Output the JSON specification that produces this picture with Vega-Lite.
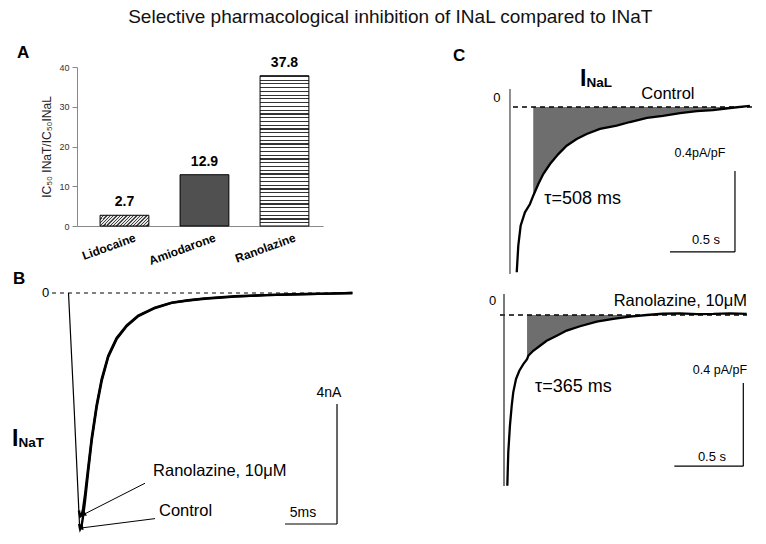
{
  "$schema": "https://vega.github.io/schema/vega-lite/v6.json",
  "background": "white",
  "padding": {"left": 12, "top": 7, "right": 0, "bottom": 0},
  "autosize": {"type": "pad"},
  "title": {"text": "Selective pharmacological inhibition of INaL compared to INaT", "fontSize": 19, "fontWeight": "normal", "font": "Liberation Sans", "color": "#111", "anchor": "middle", "frame": "bounds", "dx": 7, "offset": 17},
  "config": {"font": "Liberation Sans", "view": {"stroke": null}},
  "columns": 2,
  "bounds": "flush",
  "spacing": {"row": 5, "column": 149},
  "datasets": {
    "one": [{}],
    "ratios": [
      {"drug": "Lidocaine", "ratio": 2.7},
      {"drug": "Amiodarone", "ratio": 12.9},
      {"drug": "Ranolazine", "ratio": 37.8}
    ],
    "nat": [
      {"s": "onset", "t": 0, "v": 0},
      {"s": "onset", "t": 0.55, "v": -3.9},
      {"s": "onset", "t": 1.06, "v": -7.75},
      {"s": "onset", "t": 1.12, "v": -7.87},
      {"s": "Control", "t": 1.02, "v": -7.7},
      {"s": "Control", "t": 1.12, "v": -7.87},
      {"s": "Control", "t": 1.25, "v": -7.78},
      {"s": "Control", "t": 1.39, "v": -7.47},
      {"s": "Control", "t": 1.59, "v": -6.93},
      {"s": "Control", "t": 1.9, "v": -5.93},
      {"s": "Control", "t": 2.23, "v": -4.93},
      {"s": "Control", "t": 2.71, "v": -3.8},
      {"s": "Control", "t": 3.19, "v": -2.93},
      {"s": "Control", "t": 3.82, "v": -2.13},
      {"s": "Control", "t": 4.63, "v": -1.53},
      {"s": "Control", "t": 5.6, "v": -1.1},
      {"s": "Control", "t": 6.71, "v": -0.77},
      {"s": "Control", "t": 8.32, "v": -0.5},
      {"s": "Control", "t": 9.92, "v": -0.33},
      {"s": "Control", "t": 11.5, "v": -0.25},
      {"s": "Control", "t": 13.1, "v": -0.19},
      {"s": "Control", "t": 16, "v": -0.12},
      {"s": "Control", "t": 19, "v": -0.07},
      {"s": "Control", "t": 22, "v": -0.04},
      {"s": "Control", "t": 25, "v": -0.02},
      {"s": "Control", "t": 27.3, "v": 0},
      {"s": "Ranolazine", "t": 1.0, "v": -7.25},
      {"s": "Ranolazine", "t": 1.12, "v": -7.45},
      {"s": "Ranolazine", "t": 1.25, "v": -7.42},
      {"s": "Ranolazine", "t": 1.4, "v": -7.2},
      {"s": "Ranolazine", "t": 1.59, "v": -6.72},
      {"s": "Ranolazine", "t": 1.9, "v": -5.8},
      {"s": "Ranolazine", "t": 2.23, "v": -4.83},
      {"s": "Ranolazine", "t": 2.71, "v": -3.72},
      {"s": "Ranolazine", "t": 3.19, "v": -2.87},
      {"s": "Ranolazine", "t": 3.82, "v": -2.09},
      {"s": "Ranolazine", "t": 4.63, "v": -1.5},
      {"s": "Ranolazine", "t": 5.6, "v": -1.08},
      {"s": "Ranolazine", "t": 6.71, "v": -0.75},
      {"s": "Ranolazine", "t": 8.32, "v": -0.49},
      {"s": "Ranolazine", "t": 9.92, "v": -0.32},
      {"s": "Ranolazine", "t": 11.5, "v": -0.24},
      {"s": "Ranolazine", "t": 13.1, "v": -0.18},
      {"s": "Ranolazine", "t": 16, "v": -0.11},
      {"s": "Ranolazine", "t": 19, "v": -0.07},
      {"s": "Ranolazine", "t": 22, "v": -0.04},
      {"s": "Ranolazine", "t": 25, "v": -0.02},
      {"s": "Ranolazine", "t": 27.3, "v": 0}
    ],
    "nalControl": [
      {"t": 0.052, "v": -0.814}, {"t": 0.064, "v": -0.683}, {"t": 0.082, "v": -0.585}, {"t": 0.115, "v": -0.519},
      {"t": 0.154, "v": -0.478}, {"t": 0.179, "v": -0.437}, {"t": 0.218, "v": -0.379}, {"t": 0.256, "v": -0.33},
      {"t": 0.308, "v": -0.281}, {"t": 0.372, "v": -0.232}, {"t": 0.436, "v": -0.191}, {"t": 0.513, "v": -0.158},
      {"t": 0.59, "v": -0.133}, {"t": 0.692, "v": -0.108}, {"t": 0.821, "v": -0.092}, {"t": 0.923, "v": -0.074},
      {"t": 1.054, "v": -0.054}, {"t": 1.177, "v": -0.044}, {"t": 1.308, "v": -0.03}, {"t": 1.438, "v": -0.02},
      {"t": 1.562, "v": -0.015}, {"t": 1.692, "v": -0.005}, {"t": 1.846, "v": 0.005}
    ],
    "nalRanolazine": [
      {"t": 0.024, "v": -0.821}, {"t": 0.031, "v": -0.66}, {"t": 0.043, "v": -0.532}, {"t": 0.056, "v": -0.436},
      {"t": 0.067, "v": -0.372}, {"t": 0.087, "v": -0.308}, {"t": 0.111, "v": -0.268}, {"t": 0.14, "v": -0.236},
      {"t": 0.167, "v": -0.212}, {"t": 0.176, "v": -0.196}, {"t": 0.212, "v": -0.172}, {"t": 0.261, "v": -0.148},
      {"t": 0.309, "v": -0.124}, {"t": 0.382, "v": -0.1}, {"t": 0.454, "v": -0.075}, {"t": 0.551, "v": -0.054},
      {"t": 0.672, "v": -0.032}, {"t": 0.792, "v": -0.019}, {"t": 0.913, "v": -0.008}, {"t": 1.034, "v": 0.0},
      {"t": 1.15, "v": 0.006}, {"t": 1.275, "v": 0.008}, {"t": 1.4, "v": 0.004}, {"t": 1.517, "v": 0.005},
      {"t": 1.64, "v": 0.008}, {"t": 1.759, "v": 0.005}
    ]
  },
  "concat": [
    {
      "width": 246,
      "height": 159,
      "title": {"text": "A", "anchor": "start", "frame": "group", "dx": -60, "offset": -6, "fontSize": 17, "fontWeight": "bold", "color": "#000"},
      "data": {"name": "ratios"},
      "encoding": {
        "x": {"field": "drug", "type": "nominal", "sort": null,
          "scale": {"paddingInner": 0.39, "paddingOuter": 0.2325, "align": 0.62},
          "axis": {"title": null, "labelAngle": -20, "labelAlign": "right", "labelBaseline": "top", "labelFontWeight": "bold", "labelFontSize": 12, "labelColor": "#000", "ticks": false, "domainColor": "#888", "labelPadding": 6, "labelOffset": 9, "grid": false}},
        "y": {"field": "ratio", "type": "quantitative",
          "scale": {"domain": [0, 40], "nice": false},
          "axis": {"title": "IC₅₀ INaT/IC₅₀INaL", "titleFontSize": 12, "titleFontWeight": "normal", "titleColor": "#222", "titlePadding": 5, "values": [0, 10, 20, 30, 40], "labelFontSize": 9, "labelColor": "#333", "tickColor": "#888", "domainColor": "#888", "tickSize": 5, "labelPadding": 3, "grid": false}}
      },
      "layer": [
        {
          "transform": [{"filter": "datum.drug === 'Lidocaine'"}],
          "mark": {"type": "bar", "stroke": "#000", "strokeWidth": 1,
            "fill": {"gradient": "linear", "x1": 0, "y1": 0, "x2": 1.17, "y2": 0.256, "stops": [
              {"offset": 0, "color": "#444"}, {"offset": 0.022, "color": "#444"}, {"offset": 0.022, "color": "#e4e4e4"}, {"offset": 0.0556, "color": "#e4e4e4"},
              {"offset": 0.0556, "color": "#444"}, {"offset": 0.0778, "color": "#444"}, {"offset": 0.0778, "color": "#e4e4e4"}, {"offset": 0.1111, "color": "#e4e4e4"},
              {"offset": 0.1111, "color": "#444"}, {"offset": 0.1333, "color": "#444"}, {"offset": 0.1333, "color": "#e4e4e4"}, {"offset": 0.1667, "color": "#e4e4e4"},
              {"offset": 0.1667, "color": "#444"}, {"offset": 0.1889, "color": "#444"}, {"offset": 0.1889, "color": "#e4e4e4"}, {"offset": 0.2222, "color": "#e4e4e4"},
              {"offset": 0.2222, "color": "#444"}, {"offset": 0.2444, "color": "#444"}, {"offset": 0.2444, "color": "#e4e4e4"}, {"offset": 0.2778, "color": "#e4e4e4"},
              {"offset": 0.2778, "color": "#444"}, {"offset": 0.3, "color": "#444"}, {"offset": 0.3, "color": "#e4e4e4"}, {"offset": 0.3333, "color": "#e4e4e4"},
              {"offset": 0.3333, "color": "#444"}, {"offset": 0.3556, "color": "#444"}, {"offset": 0.3556, "color": "#e4e4e4"}, {"offset": 0.3889, "color": "#e4e4e4"},
              {"offset": 0.3889, "color": "#444"}, {"offset": 0.4111, "color": "#444"}, {"offset": 0.4111, "color": "#e4e4e4"}, {"offset": 0.4444, "color": "#e4e4e4"},
              {"offset": 0.4444, "color": "#444"}, {"offset": 0.4667, "color": "#444"}, {"offset": 0.4667, "color": "#e4e4e4"}, {"offset": 0.5, "color": "#e4e4e4"},
              {"offset": 0.5, "color": "#444"}, {"offset": 0.5222, "color": "#444"}, {"offset": 0.5222, "color": "#e4e4e4"}, {"offset": 0.5556, "color": "#e4e4e4"},
              {"offset": 0.5556, "color": "#444"}, {"offset": 0.5778, "color": "#444"}, {"offset": 0.5778, "color": "#e4e4e4"}, {"offset": 0.6111, "color": "#e4e4e4"},
              {"offset": 0.6111, "color": "#444"}, {"offset": 0.6333, "color": "#444"}, {"offset": 0.6333, "color": "#e4e4e4"}, {"offset": 0.6667, "color": "#e4e4e4"},
              {"offset": 0.6667, "color": "#444"}, {"offset": 0.6889, "color": "#444"}, {"offset": 0.6889, "color": "#e4e4e4"}, {"offset": 0.7222, "color": "#e4e4e4"},
              {"offset": 0.7222, "color": "#444"}, {"offset": 0.7444, "color": "#444"}, {"offset": 0.7444, "color": "#e4e4e4"}, {"offset": 0.7778, "color": "#e4e4e4"},
              {"offset": 0.7778, "color": "#444"}, {"offset": 0.8, "color": "#444"}, {"offset": 0.8, "color": "#e4e4e4"}, {"offset": 0.8333, "color": "#e4e4e4"},
              {"offset": 0.8333, "color": "#444"}, {"offset": 0.8556, "color": "#444"}, {"offset": 0.8556, "color": "#e4e4e4"}, {"offset": 0.8889, "color": "#e4e4e4"},
              {"offset": 0.8889, "color": "#444"}, {"offset": 0.9111, "color": "#444"}, {"offset": 0.9111, "color": "#e4e4e4"}, {"offset": 0.9444, "color": "#e4e4e4"},
              {"offset": 0.9444, "color": "#444"}, {"offset": 0.9667, "color": "#444"}, {"offset": 0.9667, "color": "#e4e4e4"}, {"offset": 1, "color": "#e4e4e4"}
            ]}}
        },
        {
          "transform": [{"filter": "datum.drug === 'Amiodarone'"}],
          "mark": {"type": "bar", "stroke": "#000", "strokeWidth": 1, "fill": "#505050"}
        },
        {
          "transform": [{"filter": "datum.drug === 'Ranolazine'"}],
          "mark": {"type": "bar", "stroke": "#000", "strokeWidth": 1,
            "fill": {"gradient": "linear", "x1": 0, "y1": 0, "x2": 0, "y2": 1, "stops": [
              {"offset": 0, "color": "#333"}, {"offset": 0.008, "color": "#333"}, {"offset": 0.008, "color": "#fff"}, {"offset": 0.025, "color": "#fff"},
              {"offset": 0.025, "color": "#333"}, {"offset": 0.033, "color": "#333"}, {"offset": 0.033, "color": "#fff"}, {"offset": 0.05, "color": "#fff"},
              {"offset": 0.05, "color": "#333"}, {"offset": 0.058, "color": "#333"}, {"offset": 0.058, "color": "#fff"}, {"offset": 0.075, "color": "#fff"},
              {"offset": 0.075, "color": "#333"}, {"offset": 0.083, "color": "#333"}, {"offset": 0.083, "color": "#fff"}, {"offset": 0.1, "color": "#fff"},
              {"offset": 0.1, "color": "#333"}, {"offset": 0.108, "color": "#333"}, {"offset": 0.108, "color": "#fff"}, {"offset": 0.125, "color": "#fff"},
              {"offset": 0.125, "color": "#333"}, {"offset": 0.133, "color": "#333"}, {"offset": 0.133, "color": "#fff"}, {"offset": 0.15, "color": "#fff"},
              {"offset": 0.15, "color": "#333"}, {"offset": 0.158, "color": "#333"}, {"offset": 0.158, "color": "#fff"}, {"offset": 0.175, "color": "#fff"},
              {"offset": 0.175, "color": "#333"}, {"offset": 0.183, "color": "#333"}, {"offset": 0.183, "color": "#fff"}, {"offset": 0.2, "color": "#fff"},
              {"offset": 0.2, "color": "#333"}, {"offset": 0.208, "color": "#333"}, {"offset": 0.208, "color": "#fff"}, {"offset": 0.225, "color": "#fff"},
              {"offset": 0.225, "color": "#333"}, {"offset": 0.233, "color": "#333"}, {"offset": 0.233, "color": "#fff"}, {"offset": 0.25, "color": "#fff"},
              {"offset": 0.25, "color": "#333"}, {"offset": 0.258, "color": "#333"}, {"offset": 0.258, "color": "#fff"}, {"offset": 0.275, "color": "#fff"},
              {"offset": 0.275, "color": "#333"}, {"offset": 0.283, "color": "#333"}, {"offset": 0.283, "color": "#fff"}, {"offset": 0.3, "color": "#fff"},
              {"offset": 0.3, "color": "#333"}, {"offset": 0.308, "color": "#333"}, {"offset": 0.308, "color": "#fff"}, {"offset": 0.325, "color": "#fff"},
              {"offset": 0.325, "color": "#333"}, {"offset": 0.333, "color": "#333"}, {"offset": 0.333, "color": "#fff"}, {"offset": 0.35, "color": "#fff"},
              {"offset": 0.35, "color": "#333"}, {"offset": 0.358, "color": "#333"}, {"offset": 0.358, "color": "#fff"}, {"offset": 0.375, "color": "#fff"},
              {"offset": 0.375, "color": "#333"}, {"offset": 0.383, "color": "#333"}, {"offset": 0.383, "color": "#fff"}, {"offset": 0.4, "color": "#fff"},
              {"offset": 0.4, "color": "#333"}, {"offset": 0.408, "color": "#333"}, {"offset": 0.408, "color": "#fff"}, {"offset": 0.425, "color": "#fff"},
              {"offset": 0.425, "color": "#333"}, {"offset": 0.433, "color": "#333"}, {"offset": 0.433, "color": "#fff"}, {"offset": 0.45, "color": "#fff"},
              {"offset": 0.45, "color": "#333"}, {"offset": 0.458, "color": "#333"}, {"offset": 0.458, "color": "#fff"}, {"offset": 0.475, "color": "#fff"},
              {"offset": 0.475, "color": "#333"}, {"offset": 0.483, "color": "#333"}, {"offset": 0.483, "color": "#fff"}, {"offset": 0.5, "color": "#fff"},
              {"offset": 0.5, "color": "#333"}, {"offset": 0.508, "color": "#333"}, {"offset": 0.508, "color": "#fff"}, {"offset": 0.525, "color": "#fff"},
              {"offset": 0.525, "color": "#333"}, {"offset": 0.533, "color": "#333"}, {"offset": 0.533, "color": "#fff"}, {"offset": 0.55, "color": "#fff"},
              {"offset": 0.55, "color": "#333"}, {"offset": 0.558, "color": "#333"}, {"offset": 0.558, "color": "#fff"}, {"offset": 0.575, "color": "#fff"},
              {"offset": 0.575, "color": "#333"}, {"offset": 0.583, "color": "#333"}, {"offset": 0.583, "color": "#fff"}, {"offset": 0.6, "color": "#fff"},
              {"offset": 0.6, "color": "#333"}, {"offset": 0.608, "color": "#333"}, {"offset": 0.608, "color": "#fff"}, {"offset": 0.625, "color": "#fff"},
              {"offset": 0.625, "color": "#333"}, {"offset": 0.633, "color": "#333"}, {"offset": 0.633, "color": "#fff"}, {"offset": 0.65, "color": "#fff"},
              {"offset": 0.65, "color": "#333"}, {"offset": 0.658, "color": "#333"}, {"offset": 0.658, "color": "#fff"}, {"offset": 0.675, "color": "#fff"},
              {"offset": 0.675, "color": "#333"}, {"offset": 0.683, "color": "#333"}, {"offset": 0.683, "color": "#fff"}, {"offset": 0.7, "color": "#fff"},
              {"offset": 0.7, "color": "#333"}, {"offset": 0.708, "color": "#333"}, {"offset": 0.708, "color": "#fff"}, {"offset": 0.725, "color": "#fff"},
              {"offset": 0.725, "color": "#333"}, {"offset": 0.733, "color": "#333"}, {"offset": 0.733, "color": "#fff"}, {"offset": 0.75, "color": "#fff"},
              {"offset": 0.75, "color": "#333"}, {"offset": 0.758, "color": "#333"}, {"offset": 0.758, "color": "#fff"}, {"offset": 0.775, "color": "#fff"},
              {"offset": 0.775, "color": "#333"}, {"offset": 0.783, "color": "#333"}, {"offset": 0.783, "color": "#fff"}, {"offset": 0.8, "color": "#fff"},
              {"offset": 0.8, "color": "#333"}, {"offset": 0.808, "color": "#333"}, {"offset": 0.808, "color": "#fff"}, {"offset": 0.825, "color": "#fff"},
              {"offset": 0.825, "color": "#333"}, {"offset": 0.833, "color": "#333"}, {"offset": 0.833, "color": "#fff"}, {"offset": 0.85, "color": "#fff"},
              {"offset": 0.85, "color": "#333"}, {"offset": 0.858, "color": "#333"}, {"offset": 0.858, "color": "#fff"}, {"offset": 0.875, "color": "#fff"},
              {"offset": 0.875, "color": "#333"}, {"offset": 0.883, "color": "#333"}, {"offset": 0.883, "color": "#fff"}, {"offset": 0.9, "color": "#fff"},
              {"offset": 0.9, "color": "#333"}, {"offset": 0.908, "color": "#333"}, {"offset": 0.908, "color": "#fff"}, {"offset": 0.925, "color": "#fff"},
              {"offset": 0.925, "color": "#333"}, {"offset": 0.933, "color": "#333"}, {"offset": 0.933, "color": "#fff"}, {"offset": 0.95, "color": "#fff"},
              {"offset": 0.95, "color": "#333"}, {"offset": 0.958, "color": "#333"}, {"offset": 0.958, "color": "#fff"}, {"offset": 0.975, "color": "#fff"},
              {"offset": 0.975, "color": "#333"}, {"offset": 0.983, "color": "#333"}, {"offset": 0.983, "color": "#fff"}, {"offset": 1, "color": "#fff"}
            ]}}
        },
        {
          "mark": {"type": "text", "fontWeight": "bold", "fontSize": 14, "baseline": "alphabetic", "dy": -9, "color": "#000"},
          "encoding": {"text": {"field": "ratio", "type": "quantitative", "format": ".1f"}}
        }
      ]
    },
    {
      "width": 248,
      "height": 207,
      "layer": [
        {
          "data": {"name": "nalControl"},
          "transform": [{"filter": "datum.t >= 0.179"}],
          "mark": {"type": "area", "color": "#6e6e6e", "opacity": 1},
          "encoding": {
            "x": {"field": "t", "type": "quantitative", "scale": {"domain": [-0.046, 1.862], "nice": false, "zero": false}, "axis": null},
            "y": {"field": "v", "type": "quantitative", "scale": {"domain": [-0.8227, 0.197], "nice": false, "zero": false}, "axis": null},
            "y2": {"datum": 0}
          }
        },
        {
          "data": {"name": "one"},
          "mark": {"type": "rule", "color": "#000", "strokeWidth": 1.3, "strokeDash": [5, 4]},
          "encoding": {"x": {"datum": 0.023, "type": "quantitative", "axis": null}, "x2": {"datum": 1.862}, "y": {"datum": 0, "type": "quantitative", "axis": null}}
        },
        {
          "data": {"name": "one"},
          "mark": {"type": "rule", "color": "#555", "strokeWidth": 1.3},
          "encoding": {"x": {"datum": 0, "type": "quantitative", "axis": null}, "y": {"datum": 0.089, "type": "quantitative", "axis": null}, "y2": {"datum": -0.823}}
        },
        {
          "data": {"name": "nalControl"},
          "mark": {"type": "line", "color": "#000", "strokeWidth": 2.3},
          "encoding": {"x": {"field": "t", "type": "quantitative", "axis": null}, "y": {"field": "v", "type": "quantitative", "axis": null}}
        },
        {
          "data": {"name": "one"},
          "mark": {"type": "rule", "color": "#000", "strokeWidth": 1.2},
          "encoding": {"x": {"datum": 1.731, "type": "quantitative", "axis": null}, "y": {"datum": -0.315, "type": "quantitative", "axis": null}, "y2": {"datum": -0.714}}
        },
        {
          "data": {"name": "one"},
          "mark": {"type": "rule", "color": "#000", "strokeWidth": 1.2},
          "encoding": {"x": {"datum": 1.231, "type": "quantitative", "axis": null}, "x2": {"datum": 1.731}, "y": {"datum": -0.714, "type": "quantitative", "axis": null}}
        },
        {
          "data": {"name": "one"},
          "mark": {"type": "text", "text": "C", "fontSize": 17, "fontWeight": "bold", "align": "left", "baseline": "alphabetic", "color": "#000"},
          "encoding": {"x": {"datum": -0.438, "type": "quantitative", "axis": null}, "y": {"datum": 0.227, "type": "quantitative", "axis": null}}
        },
        {
          "data": {"name": "one"},
          "mark": {"type": "text", "text": "I", "fontSize": 23, "fontWeight": "bold", "align": "left", "baseline": "alphabetic", "color": "#000"},
          "encoding": {"x": {"datum": 0.538, "type": "quantitative", "axis": null}, "y": {"datum": 0.103, "type": "quantitative", "axis": null}}
        },
        {
          "data": {"name": "one"},
          "mark": {"type": "text", "text": "NaL", "fontSize": 13.5, "fontWeight": "bold", "align": "left", "baseline": "alphabetic", "color": "#000"},
          "encoding": {"x": {"datum": 0.588, "type": "quantitative", "axis": null}, "y": {"datum": 0.0985, "type": "quantitative", "axis": null}}
        },
        {
          "data": {"name": "one"},
          "mark": {"type": "text", "text": "0", "fontSize": 13, "align": "center", "baseline": "middle", "color": "#000"},
          "encoding": {"x": {"datum": -0.1, "type": "quantitative", "axis": null}, "y": {"datum": 0.042, "type": "quantitative", "axis": null}}
        },
        {
          "data": {"name": "one"},
          "mark": {"type": "text", "text": "Control", "fontSize": 16.5, "align": "center", "baseline": "alphabetic", "color": "#000"},
          "encoding": {"x": {"datum": 1.215, "type": "quantitative", "axis": null}, "y": {"datum": 0.039, "type": "quantitative", "axis": null}}
        },
        {
          "data": {"name": "one"},
          "mark": {"type": "text", "text": "0.4pA/pF", "fontSize": 12.5, "align": "center", "baseline": "alphabetic", "color": "#000"},
          "encoding": {"x": {"datum": 1.4615, "type": "quantitative", "axis": null}, "y": {"datum": -0.246, "type": "quantitative", "axis": null}}
        },
        {
          "data": {"name": "one"},
          "mark": {"type": "text", "text": "τ=508 ms", "fontSize": 18, "align": "left", "baseline": "alphabetic", "color": "#000"},
          "encoding": {"x": {"datum": 0.264, "type": "quantitative", "axis": null}, "y": {"datum": -0.478, "type": "quantitative", "axis": null}}
        },
        {
          "data": {"name": "one"},
          "mark": {"type": "text", "text": "0.5 s", "fontSize": 13, "align": "center", "baseline": "alphabetic", "color": "#000"},
          "encoding": {"x": {"datum": 1.508, "type": "quantitative", "axis": null}, "y": {"datum": -0.675, "type": "quantitative", "axis": null}}
        }
      ]
    },
    {
      "width": 278,
      "height": 252,
      "layer": [
        {
          "data": {"name": "one"},
          "mark": {"type": "rule", "color": "#000", "strokeWidth": 1.2, "strokeDash": [4, 4]},
          "encoding": {
            "x": {"datum": -1.59, "type": "quantitative", "scale": {"domain": [0.817, 27.55], "nice": false, "zero": false}, "axis": null},
            "x2": {"datum": 27.26},
            "y": {"datum": 0, "type": "quantitative", "scale": {"domain": [-7.933, 0.467], "nice": false, "zero": false}, "axis": null}
          }
        },
        {
          "data": {"name": "nat"},
          "transform": [{"filter": "datum.s === 'onset'"}],
          "mark": {"type": "line", "color": "#000", "strokeWidth": 1.2},
          "encoding": {"x": {"field": "t", "type": "quantitative", "axis": null}, "y": {"field": "v", "type": "quantitative", "axis": null}}
        },
        {
          "data": {"name": "nat"},
          "transform": [{"filter": "datum.s !== 'onset'"}],
          "mark": {"type": "line", "color": "#000", "strokeWidth": 2.4},
          "encoding": {"x": {"field": "t", "type": "quantitative", "axis": null}, "y": {"field": "v", "type": "quantitative", "axis": null}, "detail": {"field": "s"}}
        },
        {
          "data": {"name": "one"},
          "mark": {"type": "rule", "color": "#000", "strokeWidth": 1},
          "encoding": {"x": {"datum": 7.36, "type": "quantitative", "axis": null}, "x2": {"datum": 1.52}, "y": {"datum": -6.34, "type": "quantitative", "axis": null}, "y2": {"datum": -7.37}}
        },
        {
          "data": {"name": "one"},
          "mark": {"type": "rule", "color": "#000", "strokeWidth": 1},
          "encoding": {"x": {"datum": 8.32, "type": "quantitative", "axis": null}, "x2": {"datum": 1.27}, "y": {"datum": -7.52, "type": "quantitative", "axis": null}, "y2": {"datum": -7.83}}
        },
        {
          "data": {"name": "one"},
          "mark": {"type": "point", "shape": "triangle", "filled": true, "color": "#000", "size": 28, "angle": 243, "opacity": 1},
          "encoding": {"x": {"datum": 1.52, "type": "quantitative", "axis": null}, "y": {"datum": -7.37, "type": "quantitative", "axis": null}}
        },
        {
          "data": {"name": "one"},
          "mark": {"type": "point", "shape": "triangle", "filled": true, "color": "#000", "size": 28, "angle": 263, "opacity": 1},
          "encoding": {"x": {"datum": 1.27, "type": "quantitative", "axis": null}, "y": {"datum": -7.83, "type": "quantitative", "axis": null}}
        },
        {
          "data": {"name": "one"},
          "mark": {"type": "rule", "color": "#000", "strokeWidth": 1.2},
          "encoding": {"x": {"datum": 25.82, "type": "quantitative", "axis": null}, "y": {"datum": -3.7, "type": "quantitative", "axis": null}, "y2": {"datum": -7.7}}
        },
        {
          "data": {"name": "one"},
          "mark": {"type": "rule", "color": "#000", "strokeWidth": 1.2},
          "encoding": {"x": {"datum": 20.82, "type": "quantitative", "axis": null}, "x2": {"datum": 25.82}, "y": {"datum": -7.7, "type": "quantitative", "axis": null}}
        },
        {
          "data": {"name": "one"},
          "mark": {"type": "text", "text": "B", "fontSize": 17, "fontWeight": "bold", "align": "left", "baseline": "alphabetic", "color": "#000"},
          "encoding": {"x": {"datum": -5.34, "type": "quantitative", "axis": null}, "y": {"datum": 0.3, "type": "quantitative", "axis": null}}
        },
        {
          "data": {"name": "one"},
          "mark": {"type": "text", "text": "0", "fontSize": 13, "align": "center", "baseline": "middle", "color": "#000"},
          "encoding": {"x": {"datum": -2.21, "type": "quantitative", "axis": null}, "y": {"datum": 0, "type": "quantitative", "axis": null}}
        },
        {
          "data": {"name": "one"},
          "mark": {"type": "text", "text": "I", "fontSize": 23, "fontWeight": "bold", "align": "left", "baseline": "alphabetic", "color": "#000"},
          "encoding": {"x": {"datum": -5.43, "type": "quantitative", "axis": null}, "y": {"datum": -5.1, "type": "quantitative", "axis": null}}
        },
        {
          "data": {"name": "one"},
          "mark": {"type": "text", "text": "NaT", "fontSize": 13.5, "fontWeight": "bold", "align": "left", "baseline": "alphabetic", "color": "#000"},
          "encoding": {"x": {"datum": -4.81, "type": "quantitative", "axis": null}, "y": {"datum": -5.13, "type": "quantitative", "axis": null}}
        },
        {
          "data": {"name": "one"},
          "mark": {"type": "text", "text": "Ranolazine, 10μM", "fontSize": 16.5, "align": "left", "baseline": "alphabetic", "color": "#000"},
          "encoding": {"x": {"datum": 8.13, "type": "quantitative", "axis": null}, "y": {"datum": -6.1, "type": "quantitative", "axis": null}}
        },
        {
          "data": {"name": "one"},
          "mark": {"type": "text", "text": "Control", "fontSize": 16.5, "align": "left", "baseline": "alphabetic", "color": "#000"},
          "encoding": {"x": {"datum": 8.7, "type": "quantitative", "axis": null}, "y": {"datum": -7.43, "type": "quantitative", "axis": null}}
        },
        {
          "data": {"name": "one"},
          "mark": {"type": "text", "text": "4nA", "fontSize": 14, "align": "center", "baseline": "alphabetic", "color": "#000"},
          "encoding": {"x": {"datum": 25.05, "type": "quantitative", "axis": null}, "y": {"datum": -3.47, "type": "quantitative", "axis": null}}
        },
        {
          "data": {"name": "one"},
          "mark": {"type": "text", "text": "5ms", "fontSize": 14, "align": "center", "baseline": "alphabetic", "color": "#000"},
          "encoding": {"x": {"datum": 22.55, "type": "quantitative", "axis": null}, "y": {"datum": -7.47, "type": "quantitative", "axis": null}}
        }
      ]
    },
    {
      "width": 248,
      "height": 210,
      "layer": [
        {
          "data": {"name": "nalRanolazine"},
          "transform": [{"filter": "datum.t >= 0.167 && datum.t <= 1.034"}],
          "mark": {"type": "area", "color": "#6e6e6e", "opacity": 1},
          "encoding": {
            "x": {"field": "t", "type": "quantitative", "scale": {"domain": [0, 1.797], "nice": false, "zero": false}, "axis": null},
            "y": {"field": "v", "type": "quantitative", "scale": {"domain": [-0.8365, 0.1731], "nice": false, "zero": false}, "axis": null},
            "y2": {"datum": 0}
          }
        },
        {
          "data": {"name": "one"},
          "mark": {"type": "rule", "color": "#000", "strokeWidth": 1.3, "strokeDash": [5, 4]},
          "encoding": {"x": {"datum": -0.029, "type": "quantitative", "axis": null}, "x2": {"datum": 1.761}, "y": {"datum": 0, "type": "quantitative", "axis": null}}
        },
        {
          "data": {"name": "one"},
          "mark": {"type": "rule", "color": "#333", "strokeWidth": 1.3},
          "encoding": {"x": {"datum": 0, "type": "quantitative", "axis": null}, "y": {"datum": 0.101, "type": "quantitative", "axis": null}, "y2": {"datum": -0.822}}
        },
        {
          "data": {"name": "nalRanolazine"},
          "mark": {"type": "line", "color": "#000", "strokeWidth": 2.3},
          "encoding": {"x": {"field": "t", "type": "quantitative", "axis": null}, "y": {"field": "v", "type": "quantitative", "axis": null}}
        },
        {
          "data": {"name": "one"},
          "mark": {"type": "rule", "color": "#000", "strokeWidth": 1.2},
          "encoding": {"x": {"datum": 1.734, "type": "quantitative", "axis": null}, "y": {"datum": -0.327, "type": "quantitative", "axis": null}, "y2": {"datum": -0.727}}
        },
        {
          "data": {"name": "one"},
          "mark": {"type": "rule", "color": "#000", "strokeWidth": 1.2},
          "encoding": {"x": {"datum": 1.234, "type": "quantitative", "axis": null}, "x2": {"datum": 1.734}, "y": {"datum": -0.727, "type": "quantitative", "axis": null}}
        },
        {
          "data": {"name": "one"},
          "mark": {"type": "text", "text": "0", "fontSize": 13, "align": "center", "baseline": "middle", "color": "#000"},
          "encoding": {"x": {"datum": -0.083, "type": "quantitative", "axis": null}, "y": {"datum": 0.067, "type": "quantitative", "axis": null}}
        },
        {
          "data": {"name": "one"},
          "mark": {"type": "text", "text": "Ranolazine, 10μM", "fontSize": 16.5, "align": "right", "baseline": "alphabetic", "color": "#000"},
          "encoding": {"x": {"datum": 1.761, "type": "quantitative", "axis": null}, "y": {"datum": 0.043, "type": "quantitative", "axis": null}}
        },
        {
          "data": {"name": "one"},
          "mark": {"type": "text", "text": "0.4 pA/pF", "fontSize": 12.5, "align": "right", "baseline": "alphabetic", "color": "#000"},
          "encoding": {"x": {"datum": 1.761, "type": "quantitative", "axis": null}, "y": {"datum": -0.284, "type": "quantitative", "axis": null}}
        },
        {
          "data": {"name": "one"},
          "mark": {"type": "text", "text": "τ=365 ms", "fontSize": 18, "align": "left", "baseline": "alphabetic", "color": "#000"},
          "encoding": {"x": {"datum": 0.225, "type": "quantitative", "axis": null}, "y": {"datum": -0.372, "type": "quantitative", "axis": null}}
        },
        {
          "data": {"name": "one"},
          "mark": {"type": "text", "text": "0.5 s", "fontSize": 13, "align": "center", "baseline": "alphabetic", "color": "#000"},
          "encoding": {"x": {"datum": 1.507, "type": "quantitative", "axis": null}, "y": {"datum": -0.7, "type": "quantitative", "axis": null}}
        }
      ]
    }
  ]
}
